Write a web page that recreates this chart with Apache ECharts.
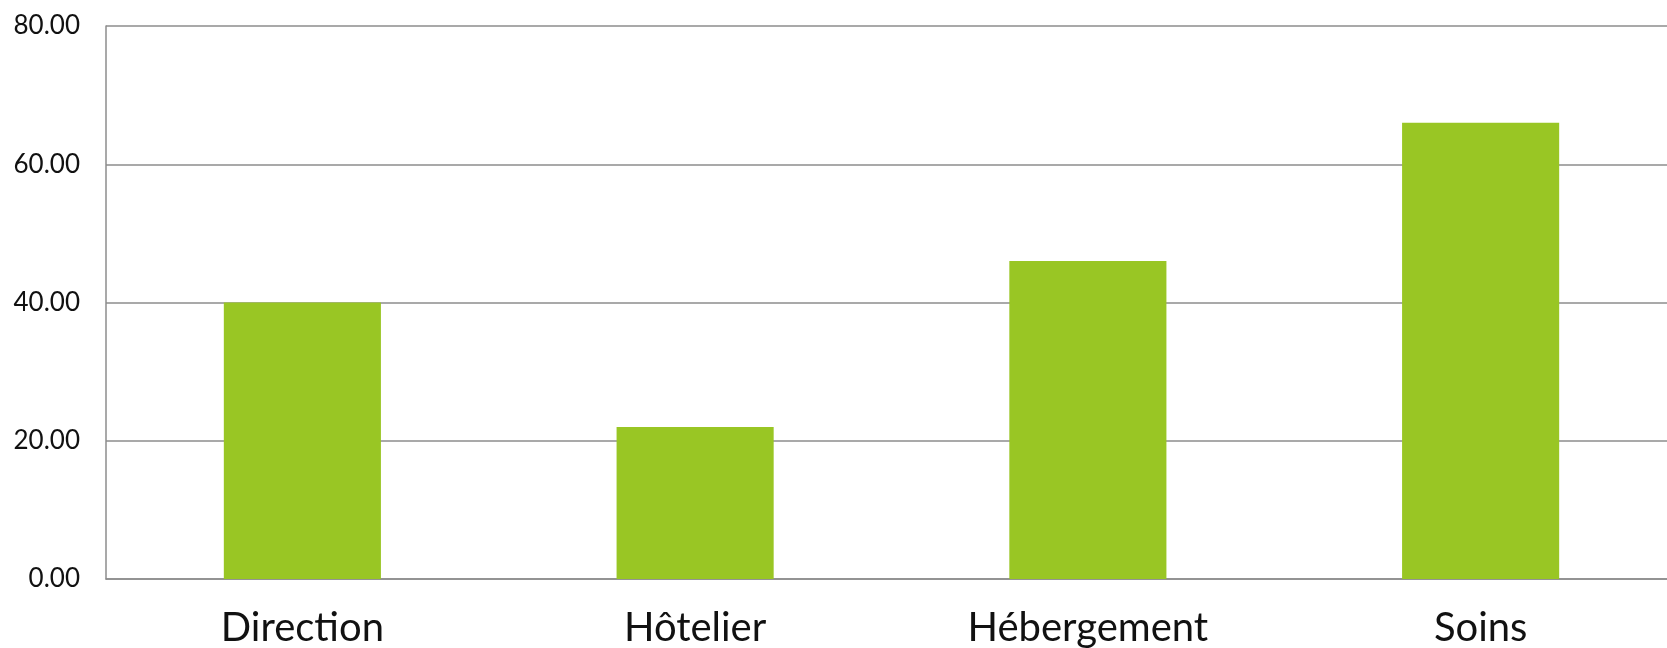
<!DOCTYPE html>
<html>
<head>
<meta charset="utf-8">
<script src="https://cdn.jsdelivr.net/npm/echarts@6/dist/echarts.min.js"></script>
<style>
  html, body { margin: 0; padding: 0; background: #fff; overflow: hidden; }
  #main { width: 1677px; height: 648px; }
</style>
</head>
<body>
<div id="main"></div>
<script>
// données
var categories = ['Direction', 'Hôtelier', 'Hébergement', 'Soins'];
var values = [40, 22, 46, 66];

var chart = echarts.init(document.getElementById('main'));
chart.setOption({
  animation: false,
  textStyle: { fontFamily: 'Lato' },
  // la zone de tracé dépasse un peu le bord droit, comme dans l'original
  grid: { left: 106, right: 0, top: 26, bottom: 69, containLabel: false },
  xAxis: {
    type: 'category',
    data: categories,
    axisLine: { lineStyle: { color: '#8c8c8c', width: 1.5 } },
    axisTick: { show: false },
    axisLabel: { color: '#111', fontSize: 40, margin: 29, fontFamily: 'Lato' }
  },
  yAxis: {
    type: 'value',
    min: 0,
    max: 80,
    interval: 20,
    axisLine: { show: true, lineStyle: { color: '#8c8c8c', width: 1.5 } },
    axisTick: { show: false },
    axisLabel: {
      color: '#111', fontSize: 26, margin: 26,
      formatter: function (v) { return v.toFixed(2); }
    },
    splitLine: { lineStyle: { color: '#8c8c8c', width: 1.5 } }
  },
  series: [{
    type: 'bar',
    data: values,
    barWidth: '40%',
    itemStyle: { color: '#99c624' }
  }]
});
</script>
</body>
</html>
